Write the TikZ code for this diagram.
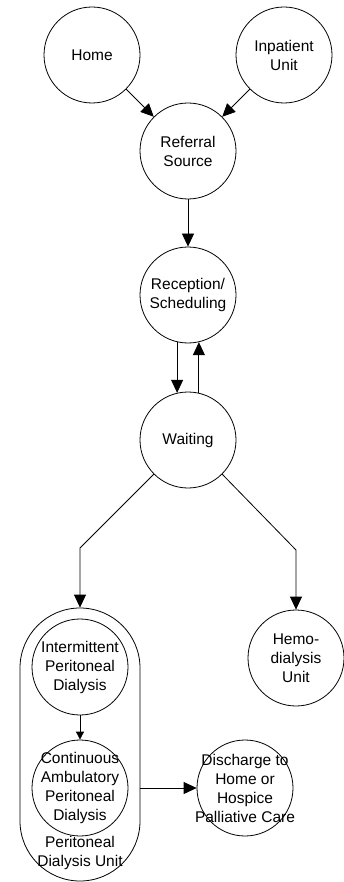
\documentclass[tikz,border=0pt]{standalone}
\usepackage{fontspec}
\setmainfont{Liberation Sans}
\usetikzlibrary{arrows.meta}
\begin{document}
\begin{tikzpicture}[x=1pt,y=-1pt,line width=0.8pt,
  circ/.style={circle,draw,minimum size=96pt,inner sep=0pt},
  every label/.style={align=center,font=\fontsize{15.5}{19}\selectfont,inner sep=0pt},
  txt/.style={align=center,font=\fontsize{15.5}{19}\selectfont,inner sep=0pt},
  arr/.style={-{Triangle[length=13pt,width=12pt]}},
  sarr/.style={-{Triangle[length=8pt,width=8pt]}}]
\useasboundingbox (0,0) rectangle (344,882);
\node[circ,label=center:Home] (home) at (92,55) {};
\node[circ,label=center:{Inpatient\\Unit}] (inp) at (284,55) {};
\node[circ,label=center:{Referral\\Source}] (ref) at (188,151) {};
\node[circ,label=center:{Reception/\\Scheduling}] (rec) at (188,295) {};
\node[circ,label=center:Waiting] (wait) at (188,440) {};
\node[draw,rounded corners=60pt,minimum width=120pt,minimum height=273pt,inner sep=0pt] (pdu) at (80,744.5) {};
\node[circ,label=center:{Intermittent\\Peritoneal\\Dialysis}] (ipd) at (80,667) {};
\node[circ,label=center:{Continuous\\Ambulatory\\Peritoneal\\Dialysis}] (capd) at (80,788) {};
\node[txt] (pdulab) at (80,853) {Peritoneal\\Dialysis Unit};
\node[circ,label=center:{Hemo-\\dialysis\\Unit}] (hemo) at (296,658) {};
\node[circ,label=center:{Discharge to\\Home or\\Hospice\\Palliative Care}] (dis) at (245,788) {};
\coordinate (lc) at (80,548);
\coordinate (rc) at (296,550);
\draw[arr] (home) -- (ref);
\draw[arr] (inp) -- (ref);
\draw[arr] (ref) -- (rec);
\draw[arr] (rec.257) -- (wait.103);
\draw[arr] (wait.77) -- (rec.283);
\draw[arr] (wait.225) -- (lc) -- (pdu.north);
\draw[arr] (wait.315) -- (rc) -- (hemo.north);
\draw[sarr] (ipd) -- (capd);
\draw[arr] (pdu.east |- dis.west) -- (dis.west);
\end{tikzpicture}
\end{document}
